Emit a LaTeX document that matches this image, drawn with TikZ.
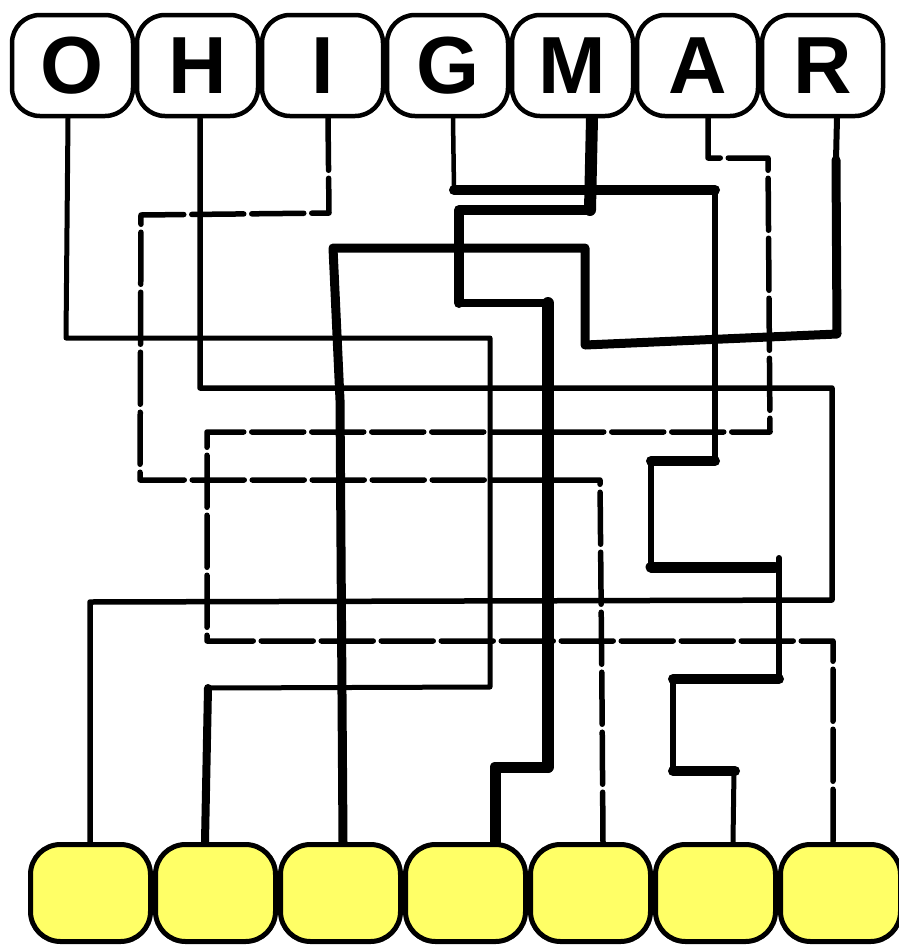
\documentclass[tikz,border=0pt]{standalone}
\usepackage{fontspec}
\setmainfont{Liberation Sans}
\usetikzlibrary{backgrounds}
\definecolor{yellowfill}{RGB}{255,255,102}
\begin{document}
\begin{tikzpicture}[x=1pt,y=-1pt,
  topbox/.style={draw, line width=4.5pt, rounded corners=28pt, fill=white,
    minimum width=121pt, minimum height=101pt, inner sep=0pt,
    font=\fontsize{81}{81}\selectfont\bfseries},
  botbox/.style={draw, line width=5pt, rounded corners=30pt, fill=yellowfill,
    minimum width=120pt, minimum height=97pt, inner sep=0pt},
  wire/.style={line width=#1, line cap=round, line join=round},
  wire/.default=5pt,
  dwire/.style={line width=5.5pt, line cap=round, line join=round,
    dash pattern=on 52pt off 8pt},
]
\useasboundingbox (0,0) rectangle (899,946);
% top boxes
\node[topbox] (tO) at (72.5,65.5) {O};
\node[topbox] (tH) at (197.5,65.5) {H};
\node[topbox] (tI) at (322.5,65.5) {I};
\node[topbox] (tG) at (447.5,65.5) {G};
\node[topbox] (tM) at (572.5,65.5) {M};
\node[topbox] (tA) at (697.5,65.5) {A};
\node[topbox] (tR) at (822.5,65.5) {R};
% bottom boxes
\node[botbox] (b1) at (90.5,893) {};
\node[botbox] (b2) at (215.5,893) {};
\node[botbox] (b3) at (340.5,893) {};
\node[botbox] (b4) at (465.5,893) {};
\node[botbox] (b5) at (590.5,893) {};
\node[botbox] (b6) at (715.5,893) {};
\node[botbox] (b7) at (840.5,893) {};
\begin{scope}[on background layer]
% O
\draw[wire] ([xshift=-4.5pt]tO.south) -- (66,338) -- (490,338) -- (490,687) -- (208,688);
\draw[wire=8pt] (208,688) -- ([xshift=-10.5pt]b2.north);
% H
\draw[wire=5.5pt] ([xshift=2.5pt]tH.south) -- (200,388) -- (832,388) -- (832,600) -- (90,602) -- ([xshift=-0.5pt]b1.north);
% I
\draw[dwire] ([xshift=5.5pt]tI.south) -- (329,213) -- (141,215) -- (140,480) -- (600,480) -- (602,700) -- ([xshift=12.5pt]b5.north);
% G
\draw[wire=4.5pt] ([xshift=5.5pt]tG.south) -- (454,190);
\draw[wire=10pt] (454,190) -- (715,190);
\draw[wire=6pt] (715,190) -- (715,461);
\draw[wire=10pt] (715,461) -- (651,461);
\draw[wire=6pt] (651,461) -- (651,567);
\draw[wire=11pt] (651,567) -- (775,567);
\draw[wire=6pt] (779,558) -- (779,679);
\draw[wire=10pt] (779,679) -- (673,679);
\draw[wire=6pt] (673,679) -- (673,771);
\draw[wire=10pt] (673,771) -- (735,771);
\draw[wire=5pt] (734,771) -- ([xshift=17.5pt]b6.north);
% M
\draw[wire=12pt] ([xshift=19.5pt]tM.south) -- (590,210);
\draw[wire=10pt] (590,210) -- (459,210) -- (459,303);
\draw[wire=8pt] (459,303) -- (548,303);
\draw[wire=12pt] (548,303) -- (548,767);
\draw[wire=11pt] (548,767) -- (495,767) -- ([xshift=29.5pt]b4.north);
% R
\draw[wire=6pt] ([xshift=14.5pt]tR.south) -- (836,160);
\draw[wire=9pt] (836,160) -- (837,334) -- (585,345) -- (585,248) -- (333,248) -- (340,400) -- ([xshift=2.5pt]b3.north);
% A
\draw[dwire] ([xshift=10.5pt]tA.south) -- (708,158) -- (768,158) -- (770,432) -- (207,432) -- (207,641) -- (833,641) -- ([xshift=-7.5pt]b7.north);
\end{scope}
\end{tikzpicture}
\end{document}
